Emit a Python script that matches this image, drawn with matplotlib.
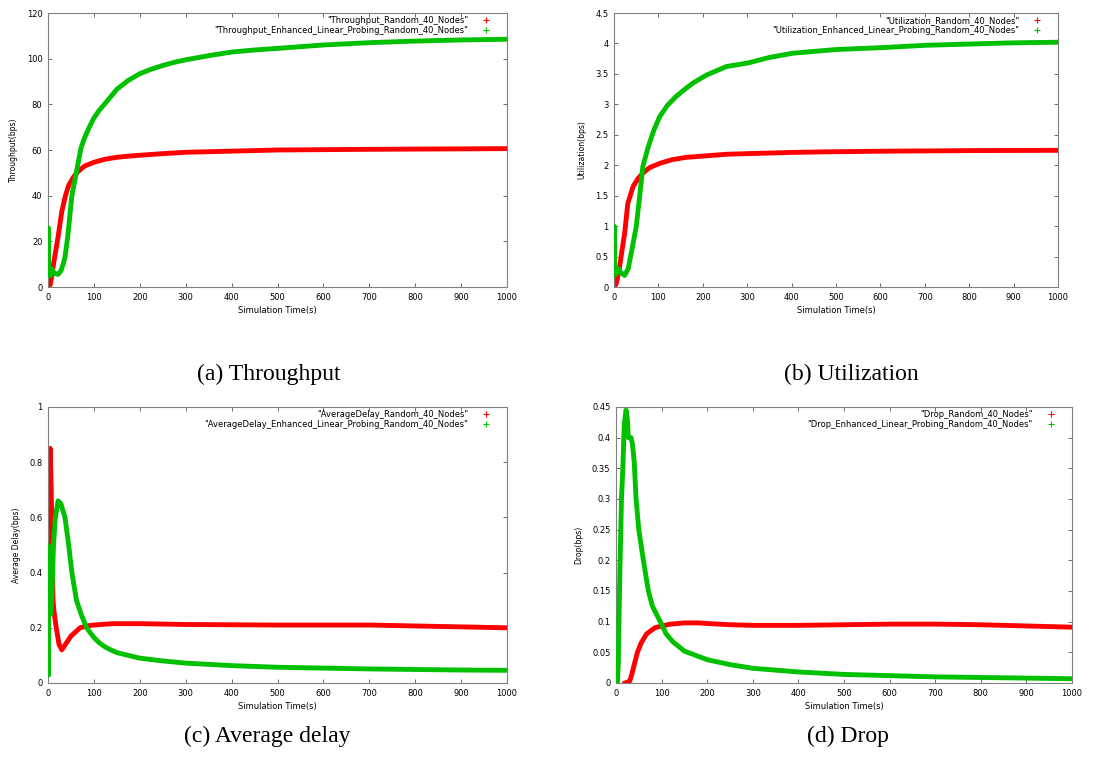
"""
Four-panel simulation comparison (gnuplot style) - Random 40 nodes
"""

import matplotlib.pyplot as plt
from matplotlib.lines import Line2D
import numpy as np

plt.rcParams['font.family'] = 'DejaVu Sans'

RED = '#FF0000'
GREEN = '#00C000'

# (a) Throughput
thr_red_t = [0, 5, 12, 22, 30, 38, 45, 55, 65, 80, 100, 125, 150, 175, 200, 250, 300, 400, 500,
             700, 1000]
thr_red_v = [0, 1, 10, 22, 33, 40, 44.5, 48, 50.5, 53, 54.6, 56, 56.8, 57.3, 57.7, 58.4, 59,
             59.5, 60, 60.3, 60.6]
thr_grn_t = [0, 0.3, 0.6, 2, 5, 8, 12, 16, 22, 28, 33, 37, 43, 48, 52, 62, 72, 80, 90, 100, 112,
             125, 150, 175, 200, 225, 250, 275, 300, 350, 400, 450, 500, 600, 700, 800, 900, 1000]
thr_grn_v = [5, 26, 5, 7, 5, 8, 6.5, 5.8, 5.5, 7, 10, 13, 22, 32, 40, 50.5, 61, 65.5, 70, 74,
             77.5, 80.5, 86.6, 90.5, 93.4, 95.4, 97, 98.4, 99.5, 101.3, 102.9, 103.8, 104.5,
             106, 107, 107.7, 108.2, 108.5]

# (b) Utilization
utl_red_t = [0, 5, 12, 18, 24, 31, 43, 54, 65, 80, 103, 130, 163, 200, 253, 300, 400, 478, 600,
             800, 1000]
utl_red_v = [0, 0.05, 0.3, 0.6, 0.88, 1.37, 1.65, 1.78, 1.87, 1.96, 2.03, 2.09, 2.13, 2.15, 2.18,
             2.19, 2.21, 2.22, 2.23, 2.24, 2.245]
utl_grn_t = [0, 0.3, 0.6, 5, 10, 15, 24, 32, 40, 50, 58, 65, 77, 90, 103, 120, 140, 160, 178, 208,
             253, 302, 350, 403, 500, 600, 703, 800, 900, 1000]
utl_grn_v = [0.2, 1.0, 0.2, 0.22, 0.3, 0.24, 0.19, 0.3, 0.6, 0.99, 1.5, 1.98, 2.3, 2.58, 2.8,
             2.98, 3.13, 3.25, 3.35, 3.48, 3.62, 3.68, 3.77, 3.84, 3.9, 3.93, 3.97, 3.99, 4.01,
             4.02]

# (c) Average delay
dly_red_t = [0, 1, 2, 3, 5, 7, 9, 11, 13, 18, 24, 30, 38, 50, 60, 70, 85, 100, 140, 200, 300, 500,
             700, 850, 1000]
dly_red_v = [0.2, 0.45, 0.7, 0.8, 0.85, 0.7, 0.5, 0.3, 0.26, 0.2, 0.14, 0.12, 0.14, 0.17, 0.185,
             0.2, 0.207, 0.21, 0.215, 0.215, 0.212, 0.21, 0.21, 0.205, 0.2]
dly_grn_t = [0, 0.3, 0.6, 1, 3, 6, 8, 12, 16, 22, 28, 37, 45, 52, 62, 72, 84, 100, 112, 125, 137,
             150, 175, 200, 250, 300, 400, 500, 600, 700, 800, 900, 1000]
dly_grn_v = [0.03, 0.5, 0.03, 0.2, 0.3, 0.25, 0.3, 0.5, 0.6, 0.66, 0.65, 0.6, 0.5, 0.4, 0.3,
             0.25, 0.2, 0.165, 0.145, 0.13, 0.12, 0.11, 0.1, 0.09, 0.08, 0.072, 0.063, 0.057,
             0.054, 0.051, 0.049, 0.047, 0.046]

# (d) Drop
drp_red_t = [20, 30, 35, 40, 47, 55, 67, 85, 100, 120, 150, 180, 200, 250, 300, 400, 500, 600,
             700, 800, 900, 1000]
drp_red_v = [0, 0.003, 0.015, 0.03, 0.05, 0.065, 0.08, 0.09, 0.093, 0.096, 0.098, 0.098, 0.097,
             0.095, 0.094, 0.094, 0.095, 0.096, 0.096, 0.095, 0.093, 0.091]
drp_grn_t = [0, 3, 5, 7, 9, 12, 15, 18, 22, 25, 27, 30, 33, 36, 40, 44, 50, 60, 71, 80, 97, 110,
             125, 150, 175, 200, 250, 300, 400, 500, 600, 700, 800, 900, 1000]
drp_grn_v = [0, 0, 0.03, 0.12, 0.2, 0.3, 0.35, 0.42, 0.445, 0.43, 0.4, 0.4, 0.4, 0.39, 0.36, 0.3,
             0.25, 0.2, 0.15, 0.125, 0.1, 0.08, 0.067, 0.052, 0.045, 0.038, 0.03, 0.024, 0.018,
             0.014, 0.012, 0.01, 0.009, 0.008, 0.007]

PANELS = [
    dict(rect=(48, 13, 507, 287), red=(thr_red_t, thr_red_v), grn=(thr_grn_t, thr_grn_v),
         ylim=(0, 120), yticks=[0, 20, 40, 60, 80, 100, 120], ylabel='Throughput(bps)',
         names=('"Throughput_Random_40_Nodes"', '"Throughput_Enhanced_Linear_Probing_Random_40_Nodes"'),
         caption='(a) Throughput', cap_xy=(269, 374)),
    dict(rect=(614, 13, 1058, 287), red=(utl_red_t, utl_red_v), grn=(utl_grn_t, utl_grn_v),
         ylim=(0, 4.5), yticks=[0, 0.5, 1, 1.5, 2, 2.5, 3, 3.5, 4, 4.5], ylabel='Utilization(bps)',
         names=('"Utilization_Random_40_Nodes"', '"Utilization_Enhanced_Linear_Probing_Random_40_Nodes"'),
         caption='(b) Utilization', cap_xy=(851, 374)),
    dict(rect=(48, 407, 507, 683), red=(dly_red_t, dly_red_v), grn=(dly_grn_t, dly_grn_v),
         ylim=(0, 1), yticks=[0, 0.2, 0.4, 0.6, 0.8, 1], ylabel='Average Delay(bps)',
         names=('"AverageDelay_Random_40_Nodes"', '"AverageDelay_Enhanced_Linear_Probing_Random_40_Nodes"'),
         caption='(c) Average delay', cap_xy=(267, 736)),
    dict(rect=(616, 407, 1072, 683), red=(drp_red_t, drp_red_v), grn=(drp_grn_t, drp_grn_v),
         ylim=(0, 0.45), yticks=[0, 0.05, 0.1, 0.15, 0.2, 0.25, 0.3, 0.35, 0.4, 0.45], ylabel='Drop(bps)',
         names=('"Drop_Random_40_Nodes"', '"Drop_Enhanced_Linear_Probing_Random_40_Nodes"'),
         caption='(d) Drop', cap_xy=(848, 736)),
]

W, H = 1098, 761
fig = plt.figure(figsize=(W / 100, H / 100), dpi=100)

for p in PANELS:
    x0, y0, x1, y1 = p['rect']
    ax = fig.add_axes([x0 / W, 1 - y1 / H, (x1 - x0) / W, (y1 - y0) / H])

    ax.plot(p['red'][0], p['red'][1], color=RED, lw=3.5, solid_joinstyle='round', zorder=2)
    ax.plot(p['grn'][0], p['grn'][1], color=GREEN, lw=3.5, solid_joinstyle='round', zorder=3)

    ax.set_xlim(0, 1000)
    ax.set_ylim(*p['ylim'])
    ax.set_xticks(np.arange(0, 1001, 100))
    ax.set_yticks(p['yticks'])
    ax.set_yticklabels([f'{v:g}' for v in p['yticks']])
    ax.tick_params(direction='in', length=3, width=0.6, top=True, right=True,
                   labelsize=6, color='#555555', pad=4)
    for s in ax.spines.values():
        s.set_color('#808080')
        s.set_linewidth(0.8)
    ax.set_xlabel('Simulation Time(s)', fontsize=6, labelpad=3)
    ax.set_ylabel(p['ylabel'], fontsize=5.5, labelpad=6)

    # gnuplot-style key: right-aligned text, sample point to its right
    handles = [Line2D([], [], color=RED, marker='+', ls='none', ms=4, mew=0.8),
               Line2D([], [], color=GREEN, marker='+', ls='none', ms=4, mew=0.8)]
    shift = 9 / (x1 - x0)
    leg = ax.legend(handles, p['names'], loc='upper right', bbox_to_anchor=(1 - shift, 1),
                    frameon=False, fontsize=6, markerfirst=False, handlelength=2.2,
                    handletextpad=1.0, labelspacing=0.05, borderaxespad=0.1, borderpad=0.3)
    for t in leg.get_texts():
        t.set_ha('right')
    leg._legend_box.align = 'right'

    cx, cy = p['cap_xy']
    fig.text(cx / W, 1 - cy / H, p['caption'], ha='center', va='center',
             fontsize=17, family='Liberation Serif')

fig.savefig('out.png', dpi=100, facecolor='white')
